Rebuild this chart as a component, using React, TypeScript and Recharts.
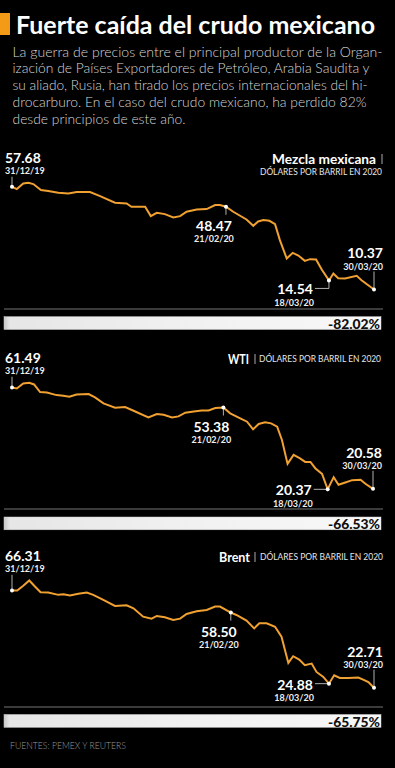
import React from "react";
import { LineChart, Line, XAxis, YAxis } from "recharts";

const FUENTE = "Lato, 'Noto Sans', sans-serif";
const NARANJA = "#f0a132";

const FECHAS = ["31/12/19", "21/02/20", "18/03/20", "30/03/20"];

// días desde el 31/12/19
const DIAS_MEZCLA = [0, 1.2, 2.8, 4.1, 5.3, 7.2, 9.0, 11.5, 14.0, 16.1, 19.4, 21.9, 25.6, 28.5, 29.7, 33.1, 34.5, 36.0, 38.0, 40.1, 41.8, 43.4, 45.9, 48.4, 50.5, 51.7, 53.2, 55.0, 58.3, 60.0, 61.2, 62.5, 64.0, 65.4, 66.6, 68.3, 69.8, 71.2, 72.8, 74.1, 75.6, 77.0, 78.8, 79.9, 81.1, 82.8, 85.7, 86.9, 90];
const PRECIOS_MEZCLA = [57.68, 56.6, 59.22, 59.52, 58.91, 56.14, 55.68, 54.91, 54.61, 55.22, 55.22, 53.38, 50.3, 50.0, 48.46, 48.46, 44.16, 45.69, 45.08, 43.54, 44.16, 46.16, 47.23, 47.38, 49.23, 49.23, 48.47, 46.16, 42.62, 39.7, 41.7, 42.31, 42.0, 40.47, 33.09, 24.64, 27.25, 26.02, 23.56, 24.33, 24.18, 19.57, 14.54, 17.72, 15.57, 15.41, 16.65, 14.65, 10.37];
const MARCAS_MEZCLA = ["57.68", "48.47", "14.54", "10.37"];
const DIAS_MARCA_MEZCLA = [0, 53.2, 78.8, 90];

const DIAS_WTI = [0, 1.2, 2.8, 4.3, 5.5, 7.0, 8.7, 11.1, 12.8, 14.3, 16.1, 19.1, 20.7, 22.8, 25.7, 28.2, 30.3, 34.0, 36.1, 37.8, 39.9, 41.5, 43.2, 45.3, 47.3, 49.0, 50.7, 52.7, 54.4, 56.9, 58.6, 60.1, 61.5, 63.1, 64.6, 66.1, 67.3, 68.7, 70.2, 71.7, 73.1, 74.4, 75.6, 77.3, 78.7, 80.2, 81.4, 83.1, 84.8, 86.9, 88.1, 90];
const PRECIOS_WTI = [61.49, 61.09, 63.1, 63.37, 62.7, 59.61, 59.48, 58.4, 58.14, 57.73, 58.67, 58.81, 57.47, 55.05, 53.31, 53.58, 52.1, 49.41, 50.76, 50.49, 49.41, 49.82, 51.3, 51.83, 52.23, 52.23, 53.17, 53.38, 51.03, 49.01, 47.67, 44.59, 46.73, 47.41, 47.0, 45.66, 40.3, 30.64, 34.26, 32.92, 31.44, 31.44, 28.89, 26.61, 20.37, 25.27, 22.19, 23.13, 24.07, 24.2, 22.59, 20.58];
const MARCAS_WTI = ["61.49", "53.38", "20.37", "20.58"];
const DIAS_MARCA_WTI = [0, 52.7, 78.7, 90];

const DIAS_BRENT = [0, 1.3, 2.8, 4.3, 5.7, 7.1, 9.0, 11.5, 12.8, 14.4, 16.5, 18.6, 20.2, 22.7, 25.6, 28.5, 30.2, 32.6, 34.7, 36.0, 38.0, 40.1, 41.8, 43.4, 45.9, 48.4, 50.5, 51.7, 54.4, 55.8, 58.3, 60.2, 61.5, 63.3, 65.4, 67.0, 68.7, 69.9, 71.4, 72.8, 74.5, 75.7, 77.4, 78.8, 80.1, 81.5, 83.6, 86.1, 87.3, 88.6, 90];
const PRECIOS_BRENT = [66.31, 66.31, 68.41, 70.82, 68.11, 65.56, 65.41, 64.36, 64.66, 64.06, 64.81, 65.41, 64.36, 62.1, 59.39, 59.69, 58.34, 54.58, 53.68, 54.88, 54.28, 53.08, 53.68, 55.79, 56.99, 57.59, 59.09, 59.09, 56.39, 55.33, 52.78, 49.32, 51.58, 51.58, 50.07, 45.56, 33.83, 36.84, 35.34, 32.78, 33.53, 29.77, 27.52, 24.51, 28.27, 27.07, 27.07, 27.22, 26.32, 25.26, 22.71];
const MARCAS_BRENT = ["66.31", "58.50", "24.88", "22.71"];
const DIAS_MARCA_BRENT = [0, 54.4, 78.8, 90];

const CAIDAS = ["-82.02%", "-66.53%", "-65.75%"];

const PARRAFO = [
  "La guerra de precios entre el principal productor de la Organ-",
  "ización de Países Exportadores de Petróleo, Arabia Saudita y",
  "su aliado, Rusia, han tirado los precios internacionales del hi-",
  "drocarburo. En el caso del crudo mexicano, ha perdido 82%",
  "desde principios de  este año.",
];
const ANCHO_PARRAFO = [370, 357, 355, 354, 173];

const PANELES = [
  { dias: DIAS_MEZCLA, precios: PRECIOS_MEZCLA, marcas: MARCAS_MEZCLA, diasMarca: DIAS_MARCA_MEZCLA,
    top: 140, dominio: [0, 70], margen: { top: 20, right: 21, bottom: 28, left: 12 }, inicio: 10, bajo: 8 },
  { dias: DIAS_WTI, precios: PRECIOS_WTI, marcas: MARCAS_WTI, diasMarca: DIAS_MARCA_WTI,
    top: 340, dominio: [10, 75], margen: { top: 14, right: 22, bottom: 25, left: 12 }, inicio: 10.7, bajo: 0 },
  { dias: DIAS_BRENT, precios: PRECIOS_BRENT, marcas: MARCAS_BRENT, diasMarca: DIAS_MARCA_BRENT,
    top: 540, dominio: [10, 80], margen: { top: 20, right: 21, bottom: 24, left: 12 }, inicio: 15.7, bajo: 0 },
];

const valorEstilo = { fontFamily: FUENTE, fontWeight: 700, fontSize: 14, fill: "#fff" };
const fechaEstilo = { fontFamily: FUENTE, fontWeight: 700, fontSize: 9, fill: "#eee" };

function Marca(props: any) {
  const { cx, cy, payload, panel } = props;
  const k = panel.diasMarca.indexOf(payload.dia);
  if (k < 0 || cx == null) return <g />;
  const guia = { stroke: "#ddd", strokeWidth: 0.8 };
  let cosas: React.ReactNode = null;
  if (k === 0) {
    const L = panel.inicio;
    cosas = (
      <>
        <line x1={cx} x2={cx} y1={cy - L} y2={cy} {...guia} />
        <text x={cx - 7} y={cy - L - 19.5} dominantBaseline="central" style={valorEstilo}>{panel.marcas[0]}</text>
        <text x={cx - 7} y={cy - L - 6.5} dominantBaseline="central" style={fechaEstilo}>{FECHAS[0]}</text>
      </>
    );
  } else if (k === 1) {
    cosas = (
      <>
        <line x1={cx} x2={cx} y1={cy} y2={cy + 8} {...guia} />
        <text x={cx - 12} y={cy + 18.5} textAnchor="middle" dominantBaseline="central" style={valorEstilo}>{panel.marcas[1]}</text>
        <text x={cx - 12} y={cy + 32} textAnchor="middle" dominantBaseline="central" style={fechaEstilo}>{FECHAS[1]}</text>
      </>
    );
  } else if (k === 2) {
    const d = panel.bajo;
    cosas = (
      <>
        <polyline points={`${cx},${cy} ${cx},${cy + d} ${cx - 14},${cy + d}`} fill="none" {...guia} />
        <text x={cx - 16} y={cy + d + 0.5} textAnchor="end" dominantBaseline="central" style={valorEstilo}>{panel.marcas[2]}</text>
        <text x={cx - 15} y={cy + d + 14} textAnchor="end" dominantBaseline="central" style={fechaEstilo}>{FECHAS[2]}</text>
      </>
    );
  } else {
    cosas = (
      <>
        <line x1={cx} x2={cx} y1={cy - 18} y2={cy} {...guia} />
        <text x={cx + 9} y={cy - 36.5} textAnchor="end" dominantBaseline="central" style={valorEstilo}>{panel.marcas[3]}</text>
        <text x={cx + 9} y={cy - 23} textAnchor="end" dominantBaseline="central" style={fechaEstilo}>{FECHAS[3]}</text>
      </>
    );
  }
  return (
    <g>
      {cosas}
      <circle cx={cx} cy={cy} r={2} fill="#fff" />
    </g>
  );
}

function Grafica({ panel }: { panel: any }) {
  const data = panel.dias.map((dia: number, i: number) => ({ dia, precio: panel.precios[i] }));
  return (
    <div style={{ position: "absolute", left: 0, top: panel.top }}>
      <LineChart width={395} height={200} data={data} margin={panel.margen} style={{ overflow: "visible" }}>
        <XAxis type="number" dataKey="dia" domain={[0, 90]} hide />
        <YAxis type="number" domain={panel.dominio} hide />
        <Line
          type="linear"
          dataKey="precio"
          stroke={NARANJA}
          strokeWidth={2}
          isAnimationActive={false}
          dot={(p: any) => <Marca key={`m${p.index}`} {...p} panel={panel} />}
          activeDot={false}
        />
      </LineChart>
    </div>
  );
}

function Fondo() {
  const cab = { fontFamily: FUENTE, fontWeight: 700, fontSize: 13, fill: "#fff" };
  const sub = { fontFamily: FUENTE, fontWeight: 400, fontSize: 8.5, fill: "#e6e6e6" };
  const pct = { fontFamily: FUENTE, fontWeight: 900, fontSize: 14, fill: "#111" };
  const barras = [
    { sep: 309, y: 316.7 },
    { sep: 509, y: 517 },
    { sep: 707, y: 714.5 },
  ];
  return (
    <svg width={395} height={768} style={{ position: "absolute", left: 0, top: 0 }}>
      <defs>
        <linearGradient id="barra" x1="0" x2="1" y1="0" y2="0">
          <stop offset="0" stopColor="#c8c8c8" />
          <stop offset="0.015" stopColor="#e6e6e6" />
          <stop offset="0.5" stopColor="#f1f1f1" />
          <stop offset="1" stopColor="#f8f8f8" />
        </linearGradient>
      </defs>
      <rect x={0} y={13} width={10} height={22} fill="#f39a16" />
      <text x={16} y={24} dominantBaseline="central" textLength={359} lengthAdjust="spacingAndGlyphs"
        style={{ fontFamily: FUENTE, fontWeight: 700, fontSize: 24, fill: "#fff" }}>
        Fuerte caída del crudo mexicano
      </text>
      {PARRAFO.map((t, i) => (
        <text key={i} x={12.5} y={51 + i * 16.9} dominantBaseline="central" textLength={ANCHO_PARRAFO[i]}
          lengthAdjust="spacingAndGlyphs"
          style={{ fontFamily: FUENTE, fontWeight: 300, fontSize: 14.5, fill: "#d6d6d6" }}>
          {t}
        </text>
      ))}

      <text x={272} y={159} dominantBaseline="central" textLength={104} lengthAdjust="spacingAndGlyphs" style={cab}>Mezcla mexicana</text>
      <line x1={382} x2={382} y1={154} y2={164} stroke="#aaa" strokeWidth={1} />
      <text x={260} y={172} dominantBaseline="central" textLength={122} lengthAdjust="spacingAndGlyphs" style={sub}>DÓLARES POR BARRIL EN 2020</text>

      <text x={228} y={359} dominantBaseline="central" textLength={21} lengthAdjust="spacingAndGlyphs" style={cab}>WTI</text>
      <line x1={255} x2={255} y1={354} y2={364} stroke="#aaa" strokeWidth={1} />
      <text x={259} y={359} dominantBaseline="central" textLength={122} lengthAdjust="spacingAndGlyphs" style={sub}>DÓLARES POR BARRIL EN 2020</text>

      <text x={219} y={557} dominantBaseline="central" textLength={31} lengthAdjust="spacingAndGlyphs" style={cab}>Brent</text>
      <line x1={255} x2={255} y1={552} y2={562} stroke="#aaa" strokeWidth={1} />
      <text x={260} y={557} dominantBaseline="central" textLength={123} lengthAdjust="spacingAndGlyphs" style={sub}>DÓLARES POR BARRIL EN 2020</text>

      {barras.map((b, i) => (
        <g key={i}>
          <line x1={4} x2={383} y1={b.sep} y2={b.sep} stroke="#777" strokeWidth={1} />
          <rect x={4} y={b.y} width={377} height={12.8} fill="url(#barra)" stroke="#d0d0d0" strokeWidth={0.5} />
          <text x={380} y={b.y + 6.6} textAnchor="end" dominantBaseline="central" textLength={52}
            lengthAdjust="spacingAndGlyphs" style={pct}>{CAIDAS[i]}</text>
        </g>
      ))}

      <text x={10} y={745} dominantBaseline="central" textLength={116} lengthAdjust="spacingAndGlyphs"
        style={{ fontFamily: FUENTE, fontWeight: 300, fontSize: 10, fill: "#9a9a9a" }}>
        FUENTES: PEMEX Y REUTERS
      </text>
    </svg>
  );
}

export default function App() {
  return (
    <div style={{ position: "relative", width: 395, height: 768, background: "#000", overflow: "hidden" }}>
      <style>{"body{margin:0;background:#000}"}</style>
      <Fondo />
      {PANELES.map((p, i) => (
        <Grafica key={i} panel={p} />
      ))}
    </div>
  );
}
